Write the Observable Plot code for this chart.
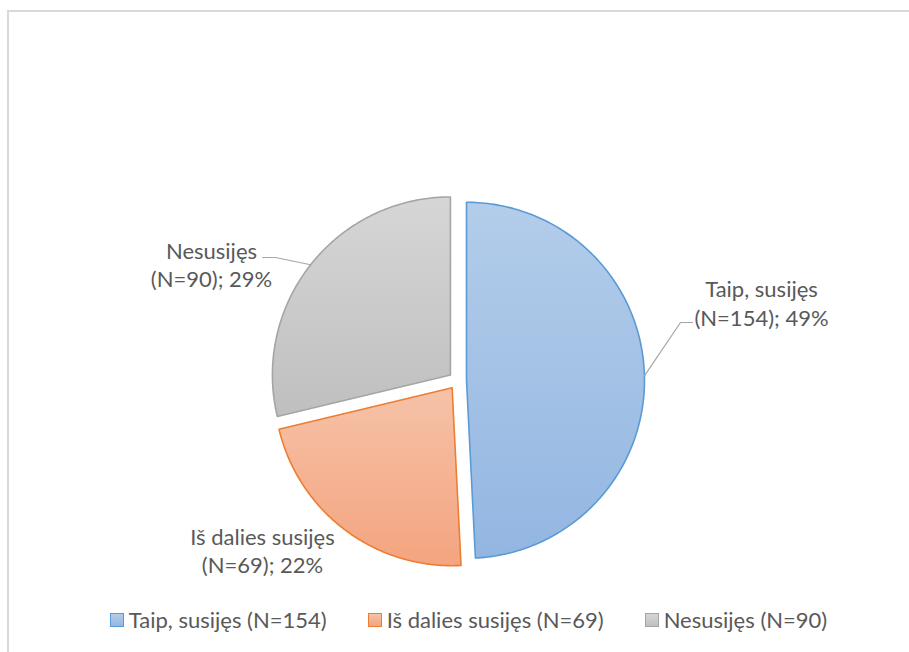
<!DOCTYPE html>
<html>
<head>
<meta charset="utf-8">
<script src="https://cdn.jsdelivr.net/npm/d3@7"></script>
<script src="https://cdn.jsdelivr.net/npm/@observablehq/plot@0.6"></script>
<style>
  body { margin: 0; background: #fff; }
  #wrap { position: relative; width: 909px; height: 652px; overflow: hidden; background: #fff; font-family: Lato, "Open Sans", sans-serif; }
  #frame { position: absolute; left: 7px; top: 10px; width: 960px; height: 700px; border-left: 2px solid #d9d9d9; border-top: 2px solid #d9d9d9; }
  #chart { position: absolute; left: 0; top: 0; }
  #legend { position: absolute; left: 0; top: 606px; width: 909px; display: flex; justify-content: center; gap: 41px; color: #595959; font-size: 22px; padding-left: 28px; box-sizing: border-box; }
  .item { display: flex; align-items: center; white-space: nowrap; }
  .sw { width: 12px; height: 12px; margin-right: 5px; box-sizing: content-box; }
</style>
</head>
<body>
<div id="wrap"><div id="frame"></div><div id="chart"></div><div id="legend"></div></div>
<script>
// ---- data ----
const categories = ["Taip, susijęs", "Iš dalies susijęs", "Nesusijęs"];
const counts = [154, 69, 90];
const legendLabels = ["Taip, susijęs (N=154)", "Iš dalies susijęs (N=69)", "Nesusijęs (N=90)"];

// ---- styles ----
const strokeColors = ["#5b9bd5", "#ed7d31", "#a5a5a5"];
const gradTop = ["#b3cdea", "#f6c2a8", "#d6d6d6"];
const gradBottom = ["#93b6e1", "#f4a47f", "#bfbfbf"];

// ---- layout ----
const W = 909, H = 600;
const pie = { cx: 457, cy: 380, r: 178, explode: 9 };
const labelPos = [
  { x: 761, y: 302, elbow: [680, 322], end: [692, 322] },
  { x: 262, y: 549.5, elbow: null, end: null },
  { x: 211, y: 263.5, elbow: [275, 257], end: [262, 257] }
];

const total = d3.sum(counts);
const arcs = d3.pie().sort(null).value(d => d)(counts);

const slices = arcs.map((a, i) => {
  const mid = (a.startAngle + a.endAngle) / 2;
  const ox = pie.cx + pie.explode * Math.sin(mid);
  const oy = pie.cy - pie.explode * Math.cos(mid);
  const pts = [{ x: ox, y: oy }];
  const n = 180;
  for (let k = 0; k <= n; k++) {
    const t = a.startAngle + (a.endAngle - a.startAngle) * k / n;
    pts.push({ x: ox + pie.r * Math.sin(t), y: oy - pie.r * Math.cos(t) });
  }
  return { i, mid, ox, oy, pts };
});

const labels = slices.map(s => ({
  x: labelPos[s.i].x,
  y: labelPos[s.i].y,
  text: `${categories[s.i]}\n(N=${counts[s.i]}); ${Math.round(counts[s.i] / total * 100)}%`
}));

const leaders = slices.filter(s => labelPos[s.i].elbow).map(s => {
  const lp = labelPos[s.i];
  return [
    { x: s.ox + pie.r * Math.sin(s.mid), y: s.oy - pie.r * Math.cos(s.mid) },
    { x: lp.elbow[0], y: lp.elbow[1] },
    { x: lp.end[0], y: lp.end[1] }
  ];
});

const defsMark = () => {
  const g = d3.create("svg:g");
  const defs = g.append("defs");
  categories.forEach((c, i) => {
    const lg = defs.append("linearGradient").attr("id", "grad" + i)
      .attr("x1", 0).attr("y1", 0).attr("x2", 0).attr("y2", 1);
    lg.append("stop").attr("offset", "0%").attr("stop-color", gradTop[i]);
    lg.append("stop").attr("offset", "100%").attr("stop-color", gradBottom[i]);
  });
  return g.node();
};

const chart = Plot.plot({
  width: W,
  height: H,
  margin: 0,
  x: { type: "linear", domain: [0, W], range: [0, W], axis: null },
  y: { type: "linear", domain: [0, H], range: [0, H], axis: null },
  style: { background: "transparent", fontFamily: "Lato, 'Open Sans', sans-serif" },
  marks: [
    defsMark,
    ...slices.map(s => Plot.line(s.pts, {
      x: "x", y: "y", curve: "linear-closed",
      fill: `url(#grad${s.i})`, stroke: strokeColors[s.i], strokeWidth: 1.6, strokeLinejoin: "round"
    })),
    ...leaders.map(l => Plot.line(l, { x: "x", y: "y", stroke: "#a6a6a6", strokeWidth: 1.2 })),
    Plot.text(labels, { x: "x", y: "y", text: "text", fontSize: 22, lineHeight: 1.3, fill: "#595959", textAnchor: "middle" })
  ]
});
document.getElementById("chart").appendChild(chart);

const legend = d3.select("#legend");
categories.forEach((c, i) => {
  const item = legend.append("div").attr("class", "item");
  item.append("div").attr("class", "sw")
    .style("border", `1.5px solid ${strokeColors[i]}`)
    .style("background", `linear-gradient(${gradTop[i]}, ${gradBottom[i]})`);
  item.append("span").text(legendLabels[i]);
});
</script>
</body>
</html>
